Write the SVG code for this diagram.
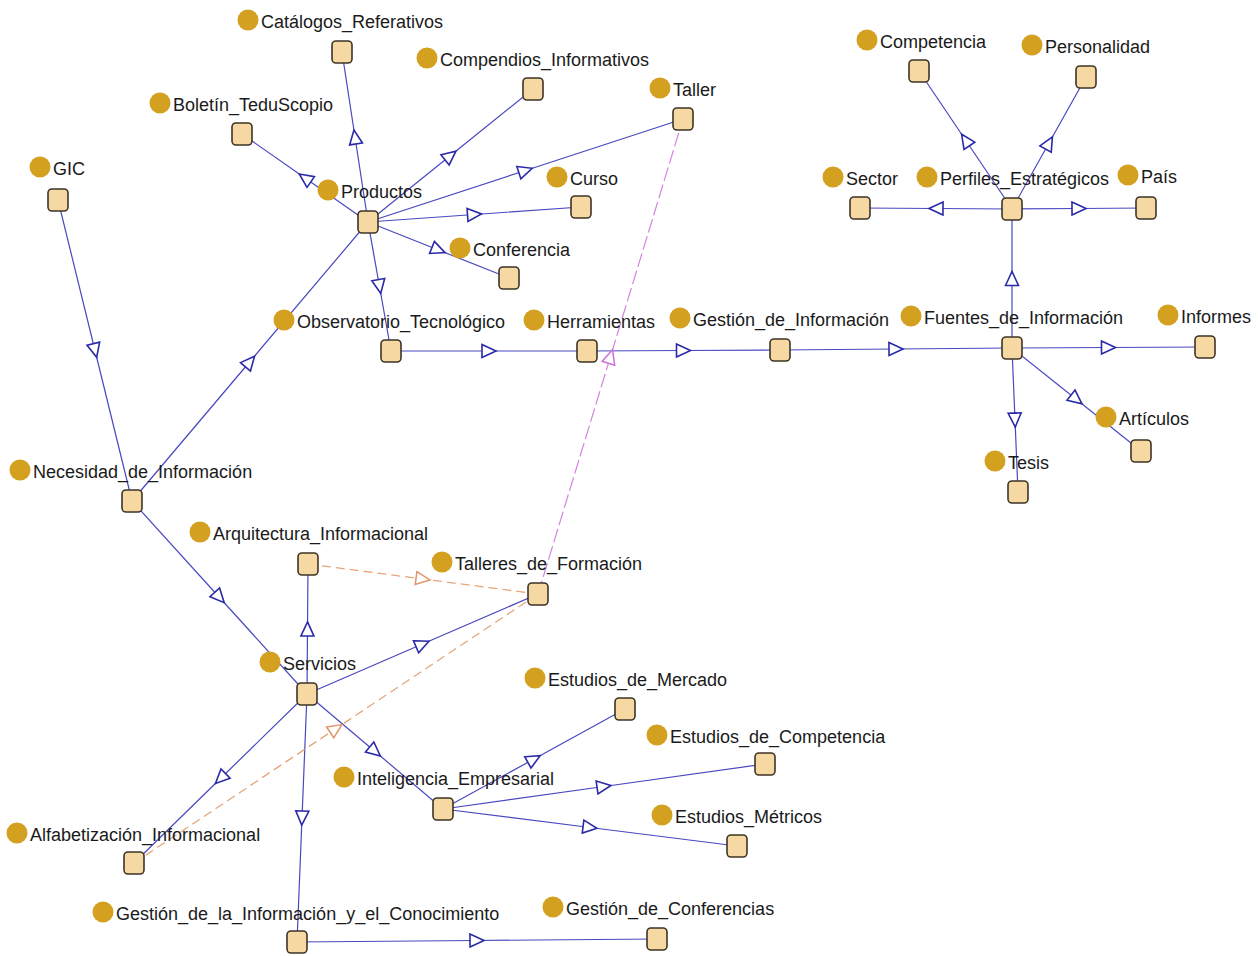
<svg xmlns="http://www.w3.org/2000/svg" width="1258" height="956" viewBox="0 0 1258 956">
<style>
.e{fill:none;stroke:#4848c0;stroke-width:1.2;marker-mid:url(#ab)}
.o{fill:none;stroke:#e6a57a;stroke-width:1.3;stroke-dasharray:9,5;marker-mid:url(#ao)}
.m{fill:none;stroke:#d484e0;stroke-width:1.2;stroke-dasharray:14,4;marker-mid:url(#am)}
.b{fill:#f6d9a2;stroke:#3d3425;stroke-width:1.6}
.c{fill:#d4a020}
text{font-family:"Liberation Sans",Arial,sans-serif;font-size:18px;fill:#1a1a1a}
</style>
<defs>
<marker id="ab" viewBox="0 0 18 16" refX="9" refY="8" markerWidth="18" markerHeight="16" markerUnits="userSpaceOnUse" orient="auto"><path d="M2,1.5 L16,8 L2,14.5 Z" fill="#fff" stroke="#2a2aa8" stroke-width="1.6"/></marker>
<marker id="ao" viewBox="0 0 18 16" refX="9" refY="8" markerWidth="18" markerHeight="16" markerUnits="userSpaceOnUse" orient="auto"><path d="M2,1.5 L16,8 L2,14.5 Z" fill="#fff" stroke="#e0956a" stroke-width="1.5"/></marker>
<marker id="am" viewBox="0 0 18 16" refX="9" refY="8" markerWidth="18" markerHeight="16" markerUnits="userSpaceOnUse" orient="auto"><path d="M2,1.5 L16,8 L2,14.5 Z" fill="#fff" stroke="#cc70dc" stroke-width="1.5"/></marker>
</defs>
<rect width="1258" height="956" fill="#fff"/>
<g id="connectors">
<path class="e" d="M368,222 L355,137 L342,52"/>
<path class="e" d="M368,222 L305,178 L242,134"/>
<path class="e" d="M368,222 L450.5,155.5 L533,89"/>
<path class="e" d="M368,222 L525.5,170.5 L683,119"/>
<path class="e" d="M368,222 L474.5,214.5 L581,207"/>
<path class="e" d="M368,222 L438.5,250 L509,278"/>
<path class="e" d="M132,501 L250,361.5 L368,222"/>
<path class="e" d="M368,222 L379.5,286.5 L391,351"/>
<path class="e" d="M391,351 L489,351 L587,351"/>
<path class="e" d="M587,351 L683.5,350.5 L780,350"/>
<path class="e" d="M780,350 L896,349 L1012,348"/>
<path class="e" d="M1012,348 L1108.5,347.5 L1205,347"/>
<path class="e" d="M1012,348 L1076.5,399.5 L1141,451"/>
<path class="e" d="M1012,348 L1015,420 L1018,492"/>
<path class="e" d="M1012,348 L1012,278.5 L1012,209"/>
<path class="e" d="M1012,209 L936,208.5 L860,208"/>
<path class="e" d="M1012,209 L1079,208.5 L1146,208"/>
<path class="e" d="M1012,209 L965.5,140 L919,71"/>
<path class="e" d="M1012,209 L1049,143 L1086,77"/>
<path class="e" d="M58,200 L95,350.5 L132,501"/>
<path class="e" d="M132,501 L219.5,597.5 L307,694"/>
<path class="e" d="M307,694 L307.5,629 L308,564"/>
<path class="e" d="M307,694 L422.5,644 L538,594"/>
<path class="e" d="M307,694 L375,751.5 L443,809"/>
<path class="e" d="M307,694 L220.5,778.5 L134,863"/>
<path class="e" d="M307,694 L302,818 L297,942"/>
<path class="e" d="M443,809 L534,759 L625,709"/>
<path class="e" d="M443,809 L604,786.5 L765,764"/>
<path class="e" d="M443,809 L590,827.5 L737,846"/>
<path class="e" d="M297,942 L477,940.5 L657,939"/>
<path class="o" d="M308,564 L423,579 L538,594"/>
<path class="o" d="M134,863 L336,728.5 L538,594"/>
<path class="m" d="M538,594 L610.5,356.5 L683,119"/>
</g>
<g id="n_catalogos"><circle class="c" cx="248" cy="20" r="10.5"/><text x="261" y="28">Catálogos_Referativos</text><rect class="b" x="332" y="41" width="20" height="22" rx="4"/></g>
<g id="n_compendios"><circle class="c" cx="427" cy="58" r="10.5"/><text x="440" y="66">Compendios_Informativos</text><rect class="b" x="523" y="78" width="20" height="22" rx="4"/></g>
<g id="n_taller"><circle class="c" cx="660" cy="88" r="10.5"/><text x="673" y="96">Taller</text><rect class="b" x="673" y="108" width="20" height="22" rx="4"/></g>
<g id="n_boletin"><circle class="c" cx="160" cy="103" r="10.5"/><text x="173" y="111">Boletín_TeduScopio</text><rect class="b" x="232" y="123" width="20" height="22" rx="4"/></g>
<g id="n_productos"><circle class="c" cx="328" cy="190" r="10.5"/><text x="341" y="198">Productos</text><rect class="b" x="358" y="211" width="20" height="22" rx="4"/></g>
<g id="n_curso"><circle class="c" cx="557" cy="177" r="10.5"/><text x="570" y="185">Curso</text><rect class="b" x="571" y="196" width="20" height="22" rx="4"/></g>
<g id="n_conferencia"><circle class="c" cx="460" cy="248" r="10.5"/><text x="473" y="256">Conferencia</text><rect class="b" x="499" y="267" width="20" height="22" rx="4"/></g>
<g id="n_gic"><circle class="c" cx="40" cy="167" r="10.5"/><text x="53" y="175">GIC</text><rect class="b" x="48" y="189" width="20" height="22" rx="4"/></g>
<g id="n_observatorio"><circle class="c" cx="284" cy="320" r="10.5"/><text x="297" y="328">Observatorio_Tecnológico</text><rect class="b" x="381" y="340" width="20" height="22" rx="4"/></g>
<g id="n_herramientas"><circle class="c" cx="534" cy="320" r="10.5"/><text x="547" y="328">Herramientas</text><rect class="b" x="577" y="340" width="20" height="22" rx="4"/></g>
<g id="n_gestion_informacion"><circle class="c" cx="680" cy="318" r="10.5"/><text x="693" y="326">Gestión_de_Información</text><rect class="b" x="770" y="339" width="20" height="22" rx="4"/></g>
<g id="n_fuentes"><circle class="c" cx="911" cy="316" r="10.5"/><text x="924" y="324">Fuentes_de_Información</text><rect class="b" x="1002" y="337" width="20" height="22" rx="4"/></g>
<g id="n_informes"><circle class="c" cx="1168" cy="315" r="10.5"/><text x="1181" y="323">Informes</text><rect class="b" x="1195" y="336" width="20" height="22" rx="4"/></g>
<g id="n_articulos"><circle class="c" cx="1106" cy="417" r="10.5"/><text x="1119" y="425">Artículos</text><rect class="b" x="1131" y="440" width="20" height="22" rx="4"/></g>
<g id="n_tesis"><circle class="c" cx="995" cy="461" r="10.5"/><text x="1008" y="469">Tesis</text><rect class="b" x="1008" y="481" width="20" height="22" rx="4"/></g>
<g id="n_competencia"><circle class="c" cx="867" cy="40" r="10.5"/><text x="880" y="48">Competencia</text><rect class="b" x="909" y="60" width="20" height="22" rx="4"/></g>
<g id="n_personalidad"><circle class="c" cx="1032" cy="45" r="10.5"/><text x="1045" y="53">Personalidad</text><rect class="b" x="1076" y="66" width="20" height="22" rx="4"/></g>
<g id="n_sector"><circle class="c" cx="833" cy="177" r="10.5"/><text x="846" y="185">Sector</text><rect class="b" x="850" y="197" width="20" height="22" rx="4"/></g>
<g id="n_perfiles"><circle class="c" cx="927" cy="177" r="10.5"/><text x="940" y="185">Perfiles_Estratégicos</text><rect class="b" x="1002" y="198" width="20" height="22" rx="4"/></g>
<g id="n_pais"><circle class="c" cx="1128" cy="175" r="10.5"/><text x="1141" y="183">País</text><rect class="b" x="1136" y="197" width="20" height="22" rx="4"/></g>
<g id="n_necesidad"><circle class="c" cx="20" cy="470" r="10.5"/><text x="33" y="478">Necesidad_de_Información</text><rect class="b" x="122" y="490" width="20" height="22" rx="4"/></g>
<g id="n_arquitectura"><circle class="c" cx="200" cy="532" r="10.5"/><text x="213" y="540">Arquitectura_Informacional</text><rect class="b" x="298" y="553" width="20" height="22" rx="4"/></g>
<g id="n_talleres"><circle class="c" cx="442" cy="562" r="10.5"/><text x="455" y="570">Talleres_de_Formación</text><rect class="b" x="528" y="583" width="20" height="22" rx="4"/></g>
<g id="n_servicios"><circle class="c" cx="270" cy="662" r="10.5"/><text x="283" y="670">Servicios</text><rect class="b" x="297" y="683" width="20" height="22" rx="4"/></g>
<g id="n_mercado"><circle class="c" cx="535" cy="678" r="10.5"/><text x="548" y="686">Estudios_de_Mercado</text><rect class="b" x="615" y="698" width="20" height="22" rx="4"/></g>
<g id="n_est_competencia"><circle class="c" cx="657" cy="735" r="10.5"/><text x="670" y="743">Estudios_de_Competencia</text><rect class="b" x="755" y="753" width="20" height="22" rx="4"/></g>
<g id="n_inteligencia"><circle class="c" cx="344" cy="777" r="10.5"/><text x="357" y="785">Inteligencia_Empresarial</text><rect class="b" x="433" y="798" width="20" height="22" rx="4"/></g>
<g id="n_metricos"><circle class="c" cx="662" cy="815" r="10.5"/><text x="675" y="823">Estudios_Métricos</text><rect class="b" x="727" y="835" width="20" height="22" rx="4"/></g>
<g id="n_alfabetizacion"><circle class="c" cx="17" cy="833" r="10.5"/><text x="30" y="841">Alfabetización_Informacional</text><rect class="b" x="124" y="852" width="20" height="22" rx="4"/></g>
<g id="n_gic_conocimiento"><circle class="c" cx="103" cy="912" r="10.5"/><text x="116" y="920">Gestión_de_la_Información_y_el_Conocimiento</text><rect class="b" x="287" y="931" width="20" height="22" rx="4"/></g>
<g id="n_gest_conferencias"><circle class="c" cx="553" cy="907" r="10.5"/><text x="566" y="915">Gestión_de_Conferencias</text><rect class="b" x="647" y="928" width="20" height="22" rx="4"/></g>
</svg>
